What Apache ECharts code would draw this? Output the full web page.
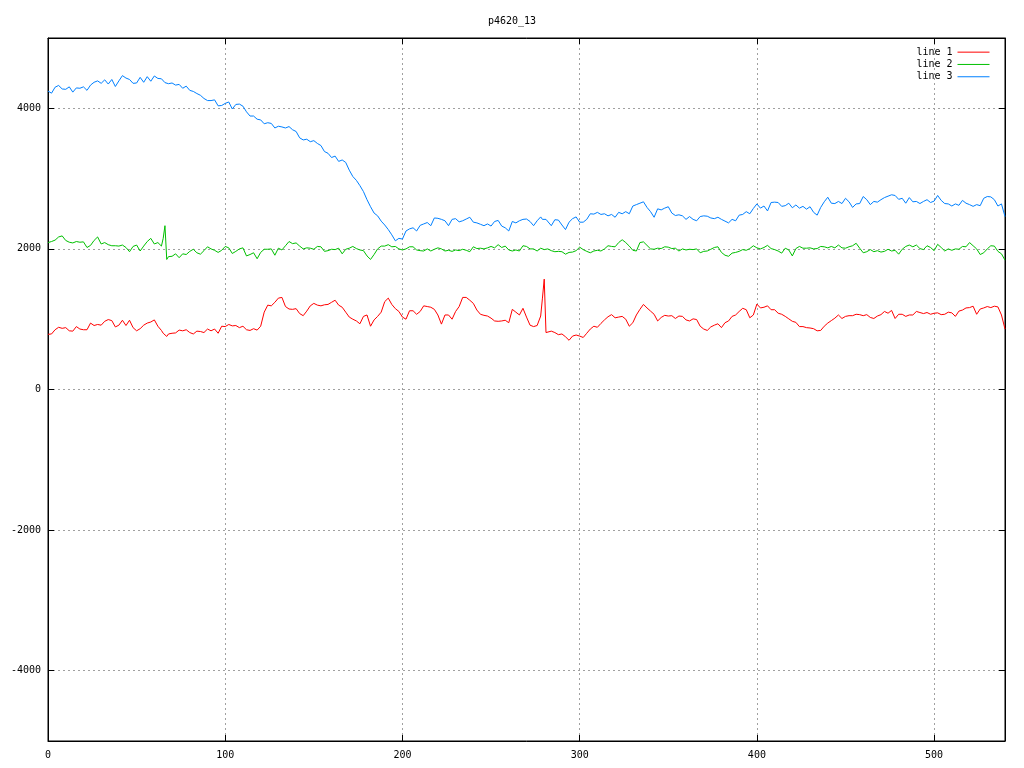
<!DOCTYPE html>
<html>
<head>
<meta charset="utf-8">
<script src="https://cdn.jsdelivr.net/npm/echarts@6/dist/echarts.min.js"></script>
<style>
html,body{margin:0;padding:0;background:#fff;}
#chart{width:1024px;height:768px;}
</style>
</head>
<body>
<div id="chart"></div>
<script>
var chartTitle = 'p4620_13';
var seriesNames = ['line 1', 'line 2', 'line 3'];

var xs = [
  0,2,4,6,8,10,12,14,16,18,20,22,24,26,28,30,32,34,36,38,40,42,44,46,48,50,52,54,56,58,60,62,64,
  65,66,67,
  68,70,72,74,76,78,80,82,84,
  86,88,90,92,94,96,98,100,
  102,104,106,108,110,112,114,116,118,120,
  122,124,126,128,130,132,134,136,138,140,
  142,144,146,148,150,152,154,156,158,160,
  162,164,166,168,170,172,174,176,178,180,
  182,184,186,188,190,192,194,196,198,200,
  202,204,206,208,210,212,214,216,218,220,
  222,224,226,228,230,232,234,236,238,240,
  242,244,246,248,250,252,254,256,258,260,
  262,264,266,268,270,272,274,276,278,
  279,280,281,
  282,284,286,288,290,292,294,296,298,300,
  302,304,306,308,310,312,314,316,318,320,
  322,324,326,328,330,332,334,336,338,340,
  342,344,346,348,350,352,354,356,358,360,
  362,364,366,368,370,372,374,376,378,380,
  382,384,386,388,390,392,394,396,398,400,
  402,404,406,408,410,412,414,416,418,420,
  422,424,426,428,430,432,434,436,438,440,
  442,444,446,448,450,452,454,456,458,460,
  462,464,466,468,470,472,474,476,478,480,
  482,484,486,488,490,492,494,496,498,500,
  502,504,506,508,510,512,514,516,518,520,
  522,524,526,528,530,532,534,536,538,540
];

var line1 = [
  785,790,850,885,870,880,835,830,895,860,850,850,945,910,925,915,970,995,980,890,915,985,910,985,880,835,865,915,945,960,990,900,840,
  800,780,755,
  790,800,805,845,835,850,810,790,830,
  825,810,860,835,860,800,900,895,
  925,905,910,880,900,850,840,865,845,900,
  1100,1200,1190,1240,1300,1310,1180,1145,1140,1150,
  1080,1050,1115,1190,1225,1200,1190,1205,1210,1240,
  1270,1200,1170,1100,1030,1000,975,935,1040,1060,
  900,990,1040,1100,1250,1300,1210,1150,1110,1030,
  1000,1120,1120,1070,1110,1190,1180,1170,1140,1060,
  930,1060,1060,1000,1110,1180,1310,1310,1270,1225,
  1130,1070,1055,1045,1015,975,970,975,985,950,
  1140,1100,1060,1155,1030,915,895,910,1045,
  1300,1570,810,
  790,830,810,780,790,750,700,760,775,760,
  740,800,860,900,885,940,990,1035,1065,1020,
  1030,1040,1000,900,950,1060,1140,1210,1160,1115,
  1070,975,1025,1055,1045,1050,1010,1045,1040,990,
  975,1005,995,900,860,840,890,915,935,880,
  950,975,1040,1060,1110,1155,1135,1020,1060,1215,
  1160,1170,1190,1135,1135,1085,1070,1040,1005,970,
  955,895,895,880,875,865,835,840,900,945,
  980,1015,1060,1010,1040,1050,1050,1070,1065,1050,
  1065,1025,1010,1045,1065,1110,1085,1125,1010,1070,
  1070,1040,1060,1060,1110,1095,1080,1095,1070,1085,
  1090,1065,1070,1100,1090,1040,1115,1130,1160,1165,
  1185,1070,1145,1160,1180,1165,1185,1175,1060,860
];

var line2 = [
  2090,2105,2125,2170,2185,2120,2095,2085,2105,2095,2100,2020,2050,2120,2170,2070,2090,2060,2045,2045,2040,2055,2020,1960,2035,2055,1970,2040,2105,2150,2070,2090,2040,
  2150,2330,1850,
  1890,1895,1930,1875,1930,1920,1965,1995,1945,
  1925,1975,2030,2000,1980,1950,1980,2035,
  2015,1935,1965,2000,2015,1900,1920,1945,1860,1950,
  1995,1995,2000,1910,2010,1985,2045,2105,2075,2085,
  2040,2000,2015,2010,1995,2035,2030,1965,1975,1995,
  1990,2010,1930,1995,2010,2035,2005,1985,1975,1900,
  1850,1920,2000,2040,2040,2060,2030,2035,2000,1985,
  2000,2030,2030,1985,1975,1970,2000,1970,1995,2015,
  2000,1970,1980,1965,1985,1975,1995,1980,1960,2030,
  2005,2010,2000,2015,2035,2015,2060,2020,2040,1985,
  1970,1985,1970,2045,2035,2000,2000,1970,2010,
  1995,1990,1995,
  2000,1975,1960,1965,1960,1925,1950,1955,1975,2025,
  1990,1965,1945,1970,1980,1970,2000,2045,2035,2030,
  2090,2130,2090,2040,1980,1970,2090,2100,2050,2000,
  1995,2010,2005,2030,2025,2005,2010,1970,2000,1985,
  1995,1990,2000,1945,1965,1970,1995,2020,2030,1950,
  1910,1895,1940,1950,1965,1990,1980,2005,2045,2015,
  2000,2020,2050,2005,1990,1970,1940,2010,1985,1900,
  2005,2035,2010,2010,2015,2000,2005,2035,2030,2015,
  2035,2015,2055,2015,2010,2030,2045,2080,2010,1945,
  1960,1990,1960,1975,1955,1965,1995,1970,1980,1925,
  1995,2035,2055,2030,2055,2005,1990,2045,2020,1975,
  2065,2020,1970,2000,1980,2000,1995,2035,2030,2090,
  2045,2000,1920,1945,2000,2045,2040,1965,1930,1840
];

var line3 = [
  4245,4215,4300,4325,4275,4270,4305,4230,4290,4285,4305,4255,4330,4370,4390,4355,4405,4345,4410,4310,4390,4465,4430,4410,4355,4360,4440,4370,4450,4385,4460,4425,4420,
  4400,4365,4360,
  4350,4360,4330,4340,4285,4315,4255,4240,4210,
  4185,4140,4110,4110,4120,4035,4040,4070,
  4090,3990,4055,4060,4030,3950,3890,3890,3845,3835,
  3780,3795,3785,3720,3745,3735,3720,3740,3695,3670,
  3580,3550,3560,3525,3540,3500,3470,3385,3360,3300,
  3320,3245,3265,3230,3120,3030,2975,2900,2815,2700,
  2600,2510,2470,2395,2340,2275,2200,2115,2150,2140,
  2255,2285,2300,2255,2335,2355,2375,2330,2440,2435,
  2420,2400,2330,2420,2430,2385,2400,2425,2450,2380,
  2370,2350,2330,2355,2325,2390,2405,2325,2300,2255,
  2390,2370,2400,2420,2425,2390,2330,2400,2455,
  2420,2400,2420,
  2440,2330,2415,2410,2340,2275,2380,2430,2455,2380,
  2380,2420,2500,2495,2520,2490,2500,2470,2490,2450,
  2520,2500,2530,2500,2610,2630,2650,2670,2590,2530,
  2450,2570,2555,2580,2600,2510,2475,2485,2470,2420,
  2460,2420,2400,2460,2470,2465,2440,2430,2450,2420,
  2395,2370,2420,2400,2480,2490,2530,2500,2575,2640,
  2580,2610,2540,2660,2665,2660,2605,2615,2650,2585,
  2625,2580,2605,2565,2600,2520,2480,2590,2670,2735,
  2650,2645,2675,2645,2720,2670,2590,2640,2645,2745,
  2700,2630,2675,2665,2700,2730,2750,2770,2760,2705,
  2720,2650,2730,2670,2675,2645,2675,2700,2660,2680,
  2760,2690,2645,2640,2610,2640,2620,2690,2650,2630,
  2605,2630,2615,2720,2745,2740,2700,2610,2640,2460
];

var seriesValues = [line1, line2, line3];
var seriesColors = ['#ff0000', '#00c000', '#0080ff'];

function zip(xv, yv) {
  var n = Math.min(xv.length, yv.length);
  if (xv.length !== yv.length) console.log('length mismatch', xv.length, yv.length);
  var out = [];
  for (var i = 0; i < n; i++) out.push([xv[i], yv[i]]);
  return out;
}

var FONT = 'DejaVu Sans Mono';
var gridLine = { show: true, lineStyle: { color: '#a0a0a0', type: [2, 3], width: 1 } };
function plain(v) { return String(v); }

function xAxisCfg(pos, labels) {
  return {
    type: 'value', position: pos, min: 0, max: 540, interval: 100,
    axisLine: { show: true, onZero: false, lineStyle: { color: '#000', width: 1 } },
    axisTick: { show: true, inside: true, length: 6, lineStyle: { color: '#000' } },
    axisLabel: { show: labels, margin: 9, color: '#000', fontFamily: FONT, fontSize: 10, showMaxLabel: false, showMinLabel: true, formatter: plain },
    splitLine: labels ? gridLine : { show: false }
  };
}
function yAxisCfg(pos, labels) {
  return {
    type: 'value', position: pos, min: -5000, max: 5000, splitNumber: 5,
    axisLine: { show: true, onZero: false, lineStyle: { color: '#000', width: 1 } },
    axisTick: { show: true, inside: true, length: 6, lineStyle: { color: '#000' } },
    axisLabel: { show: labels, margin: 7, color: '#000', fontFamily: FONT, fontSize: 10, showMaxLabel: false, showMinLabel: false, formatter: plain },
    splitLine: labels ? gridLine : { show: false }
  };
}

var chart = echarts.init(document.getElementById('chart'), null, { renderer: 'canvas' });
chart.setOption({
  animation: false,
  backgroundColor: '#fff',
  title: {
    text: chartTitle, left: 'center', top: 11,
    textStyle: { fontFamily: FONT, fontSize: 10, fontWeight: 'normal', color: '#000' }
  },
  grid: { left: 48, right: 19, top: 38, bottom: 27, show: true, borderColor: '#000', borderWidth: 1 },
  legend: {
    orient: 'vertical', right: 29, top: 41, align: 'right',
    itemWidth: 32, itemHeight: 12, itemGap: 0,
    itemStyle: { opacity: 0 },
    lineStyle: { width: 1 },
    textStyle: { fontFamily: FONT, fontSize: 10, color: '#000', lineHeight: 12.3 },
    data: seriesNames
  },
  xAxis: [xAxisCfg('bottom', true), xAxisCfg('top', false)],
  yAxis: [yAxisCfg('left', true), yAxisCfg('right', false)],
  series: seriesNames.map(function (n, i) {
    return {
      name: n, type: 'line', xAxisIndex: 0, yAxisIndex: 0,
      showSymbol: false, symbol: 'none',
      color: seriesColors[i],
      itemStyle: { color: seriesColors[i] },
      lineStyle: { color: seriesColors[i], width: 1 },
      data: zip(xs, seriesValues[i])
    };
  })
});
</script>
</body>
</html>
